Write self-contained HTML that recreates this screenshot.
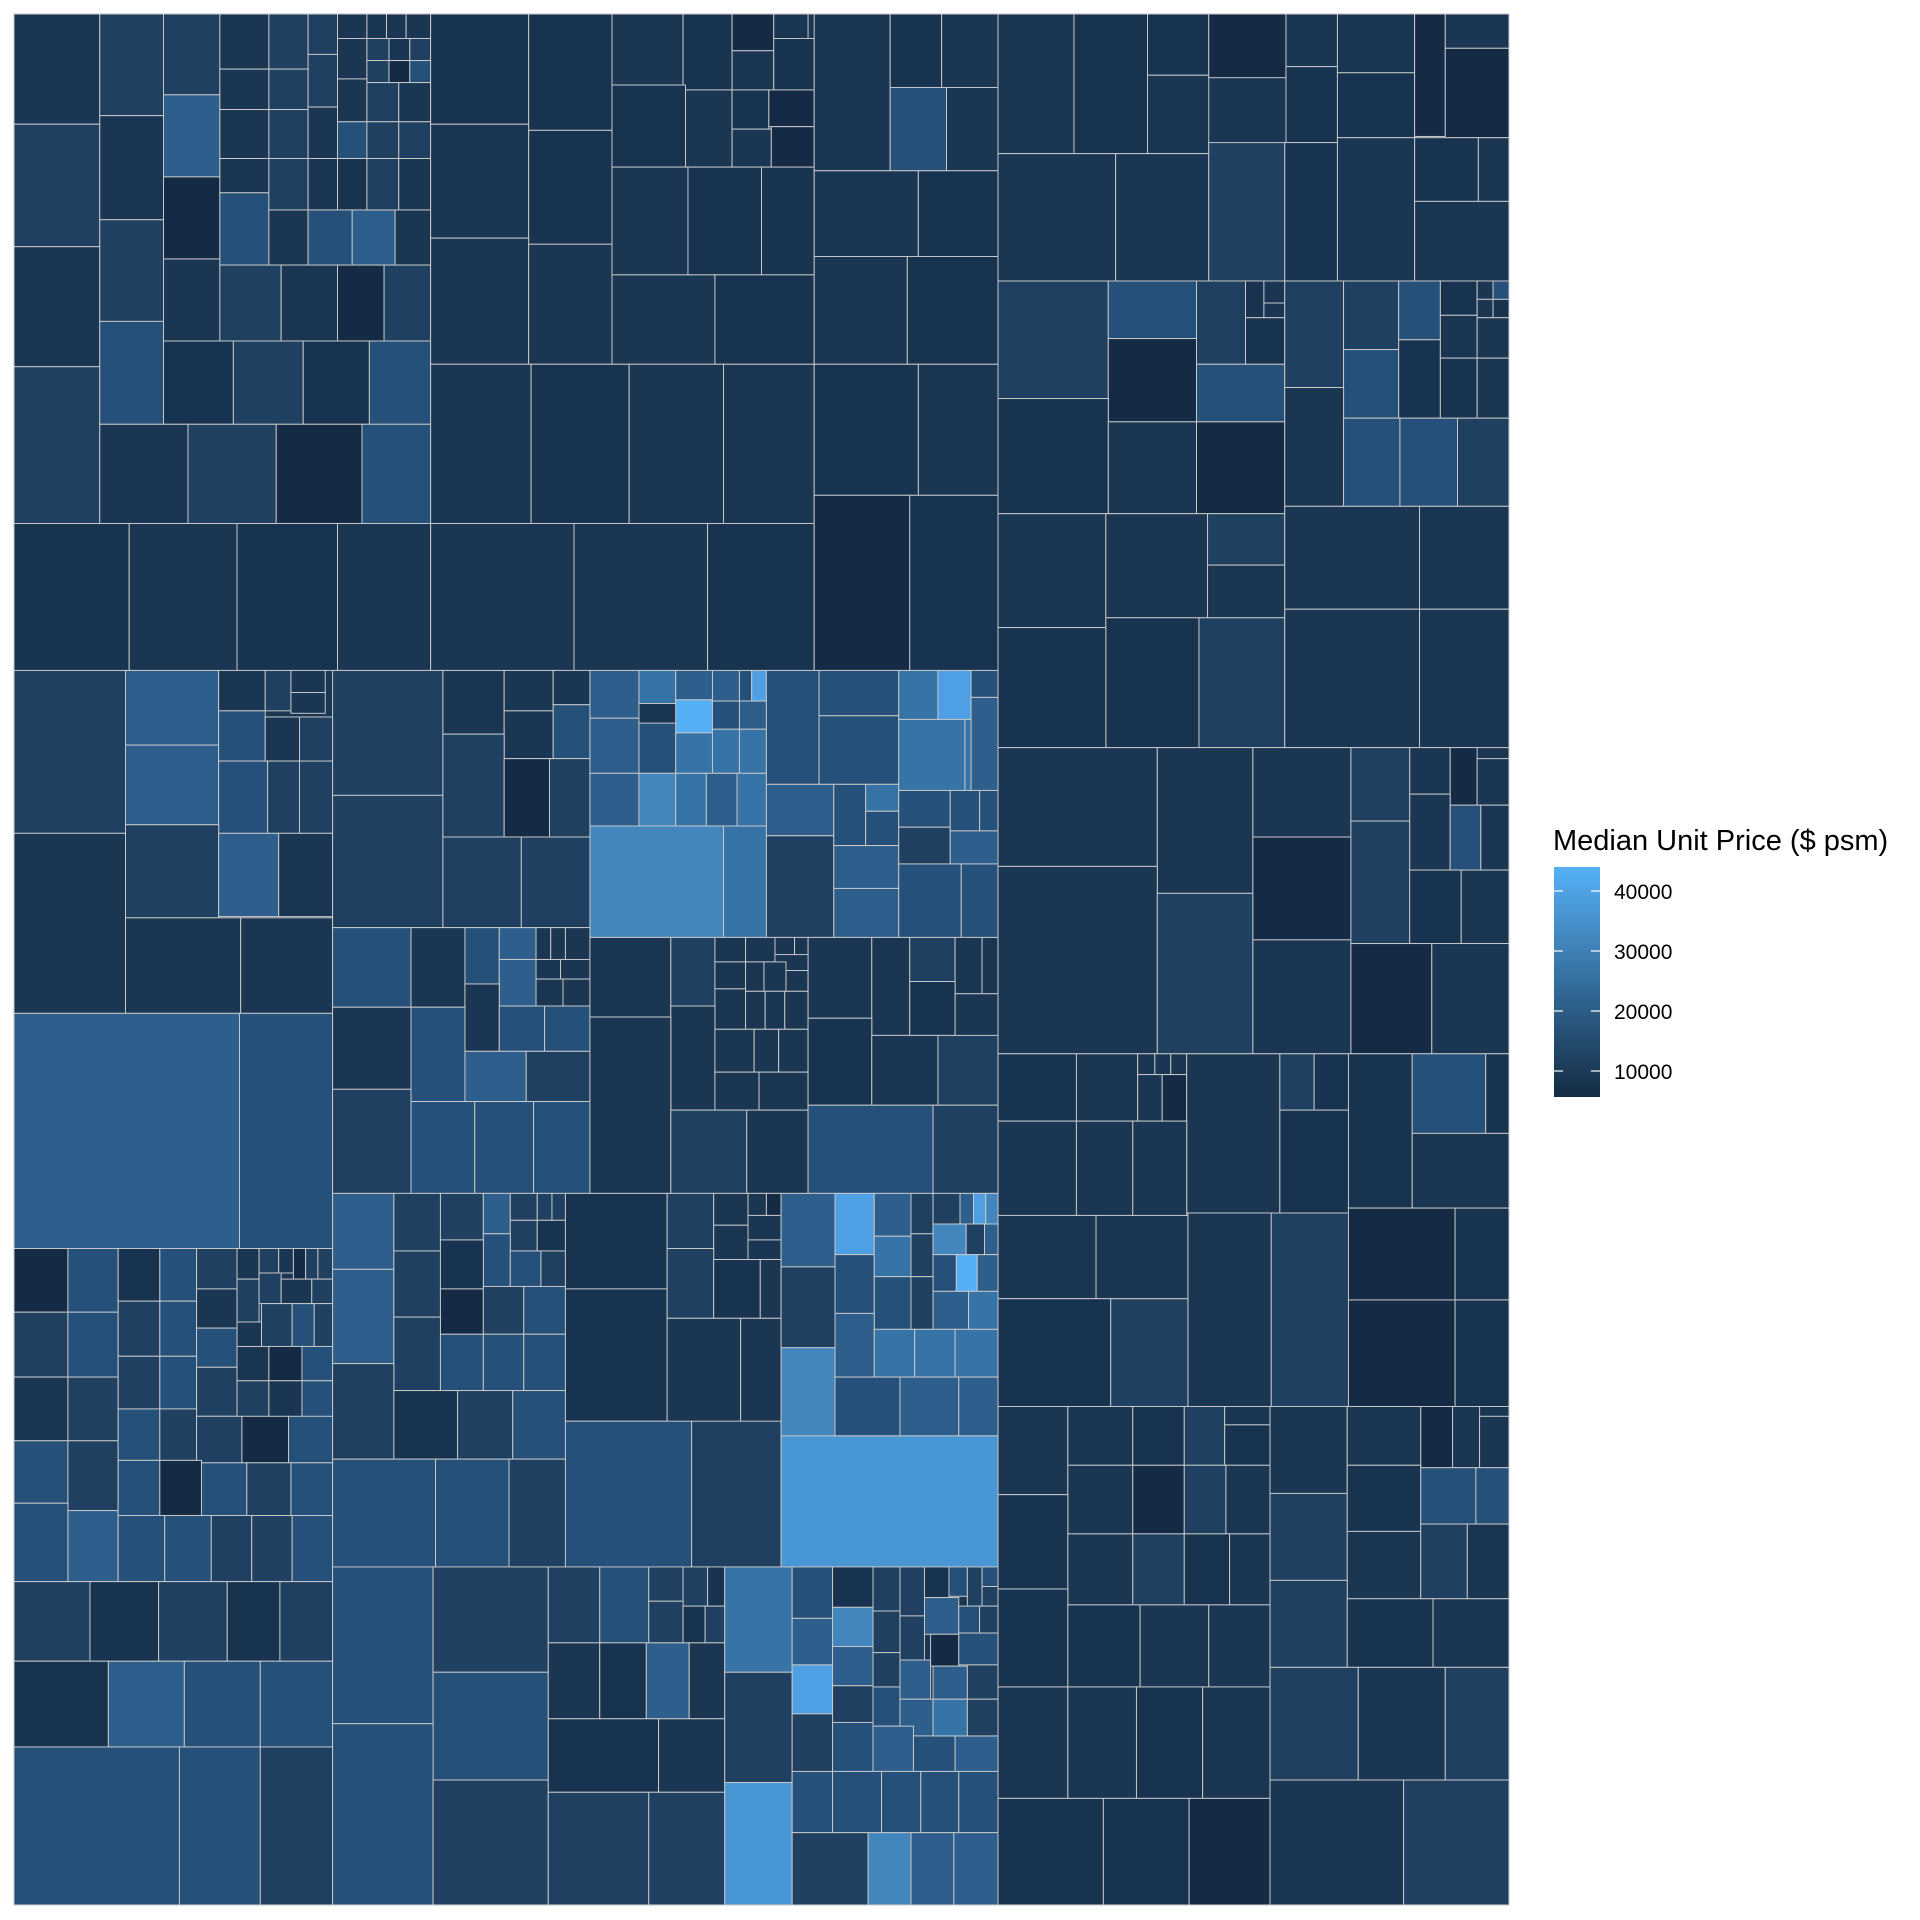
<!DOCTYPE html>
<html><head><meta charset="utf-8"><style>
html,body{margin:0;padding:0;background:#fff}
svg{display:block}
.t rect{fill:#1b3652;stroke:#c8c8c8;stroke-width:0.8}
.t rect.b{fill:#183350}.t rect.k{fill:#152b45}.t rect.c{fill:#1f4060}.t rect.d{fill:#24507a}
.t rect.e{fill:#2e5f8c}.t rect.f{fill:#3673a7}.t rect.g{fill:#4385bd}.t rect.g2{fill:#4896d4}
.t rect.h{fill:#4e9fe4}.t rect.i{fill:#54aff5}
text{font-family:"Liberation Sans",Arial,sans-serif;fill:#000}
</style></head><body>
<svg width="1920" height="1920" viewBox="0 0 1920 1920" xmlns="http://www.w3.org/2000/svg">
<defs><linearGradient id="gr" x1="0" y1="1" x2="0" y2="0"><stop offset="0" stop-color="#132b43"/><stop offset="1" stop-color="#56b1f7"/></linearGradient></defs>
<g class="t" transform="translate(14,14) scale(1.2254,1.2247) translate(-12,-12)">
<rect x="12" y="12" width="1220" height="1544"/>
<!-- A -->
<rect x="12" y="12" width="70" height="90"/><rect class="c" x="12" y="102" width="70" height="100"/><rect x="12" y="202" width="70" height="98"/><rect class="c" x="12" y="300" width="70" height="128"/>
<rect class="c" x="82" y="12" width="52" height="83"/><rect x="82" y="95" width="52" height="85"/><rect class="c" x="82" y="180" width="52" height="83"/><rect class="d" x="82" y="263" width="52" height="84"/>
<rect class="c" x="134" y="12" width="46" height="66"/><rect class="e" x="134" y="78" width="46" height="67"/><rect class="k" x="134" y="145" width="46" height="67"/><rect x="134" y="212" width="46" height="67"/>
<rect x="180" y="12" width="40" height="45"/><rect class="c" x="220" y="12" width="32" height="45"/><rect x="180" y="57" width="40" height="33"/><rect class="c" x="220" y="57" width="32" height="33"/><rect x="180" y="90" width="40" height="40"/><rect class="c" x="220" y="90" width="32" height="40"/><rect x="180" y="130" width="40" height="28"/><rect class="d" x="180" y="158" width="40" height="59"/><rect class="c" x="220" y="130" width="32" height="42"/><rect x="220" y="172" width="32" height="45"/>
<rect class="c" x="252" y="12" width="24" height="33"/><rect x="276" y="12" width="24" height="20"/><rect x="300" y="12" width="16" height="20"/><rect x="316" y="12" width="16" height="20"/><rect x="332" y="12" width="20" height="20"/>
<rect x="276" y="32" width="24" height="33"/><rect class="c" x="300" y="32" width="18" height="18"/><rect x="318" y="32" width="17" height="18"/><rect class="c" x="335" y="32" width="17" height="18"/><rect class="c" x="300" y="50" width="18" height="18"/><rect class="k" x="318" y="50" width="17" height="18"/><rect class="d" x="335" y="50" width="17" height="18"/>
<rect class="c" x="252" y="45" width="24" height="43"/><rect x="276" y="65" width="24" height="35"/><rect class="c" x="300" y="68" width="26" height="32"/><rect x="326" y="68" width="26" height="32"/>
<rect x="252" y="88" width="24" height="42"/><rect class="d" x="276" y="100" width="24" height="30"/><rect class="c" x="300" y="100" width="26" height="30"/><rect class="c" x="326" y="100" width="26" height="30"/>
<rect x="252" y="130" width="24" height="42"/><rect class="b" x="276" y="130" width="24" height="42"/><rect class="c" x="300" y="130" width="26" height="42"/><rect x="326" y="130" width="26" height="42"/>
<rect class="d" x="252" y="172" width="36" height="45"/><rect class="e" x="288" y="172" width="35" height="45"/><rect x="323" y="172" width="29" height="45"/>
<rect class="c" x="180" y="217" width="50" height="62"/><rect x="230" y="217" width="46" height="62"/><rect class="k" x="276" y="217" width="38" height="62"/><rect class="c" x="314" y="217" width="38" height="62"/>
<rect class="b" x="134" y="279" width="57" height="68"/><rect class="c" x="191" y="279" width="57" height="68"/><rect class="b" x="248" y="279" width="54" height="68"/><rect class="d" x="302" y="279" width="50" height="68"/>
<rect x="82" y="347" width="72" height="81"/><rect class="c" x="154" y="347" width="72" height="81"/><rect class="k" x="226" y="347" width="70" height="81"/><rect class="d" x="296" y="347" width="56" height="81"/>
<rect class="b" x="12" y="428" width="94" height="120"/><rect x="106" y="428" width="88" height="120"/><rect class="b" x="194" y="428" width="82" height="120"/><rect x="276" y="428" width="76" height="120"/>
<!-- B -->
<rect class="b" x="352" y="12" width="80" height="90"/><rect class="b" x="432" y="12" width="68" height="95"/><rect x="352" y="102" width="80" height="93"/><rect class="b" x="432" y="107" width="68" height="93"/><rect x="352" y="195" width="80" height="103"/><rect x="432" y="200" width="68" height="98"/>
<rect x="500" y="12" width="58" height="58"/><rect class="b" x="558" y="12" width="40" height="62"/><rect class="k" x="598" y="12" width="34" height="30"/><rect x="632" y="12" width="28" height="20"/><rect x="598" y="42" width="34" height="32"/><rect class="b" x="632" y="32" width="33" height="42"/>
<rect class="b" x="500" y="70" width="60" height="67"/><rect x="560" y="74" width="38" height="63"/><rect class="b" x="598" y="74" width="30" height="32"/><rect class="k" x="628" y="74" width="37" height="30"/><rect x="598" y="106" width="32" height="31"/><rect class="k" x="630" y="104" width="35" height="33"/>
<rect x="500" y="137" width="62" height="88"/><rect class="b" x="562" y="137" width="60" height="88"/><rect class="b" x="622" y="137" width="43" height="88"/>
<rect x="500" y="225" width="84" height="73"/><rect class="b" x="584" y="225" width="81" height="73"/>
<rect x="352" y="298" width="82" height="130"/><rect class="b" x="434" y="298" width="80" height="130"/><rect x="514" y="298" width="77" height="130"/><rect x="591" y="298" width="74" height="130"/>
<rect x="352" y="428" width="117" height="120"/><rect x="469" y="428" width="109" height="120"/><rect class="b" x="578" y="428" width="87" height="120"/>
<!-- C -->
<rect x="665" y="12" width="62" height="128"/><rect class="b" x="727" y="12" width="42" height="60"/><rect x="769" y="12" width="46" height="60"/><rect class="d" x="727" y="72" width="46" height="68"/><rect x="773" y="72" width="42" height="68"/>
<rect x="665" y="140" width="85" height="70"/><rect class="b" x="750" y="140" width="65" height="70"/>
<rect x="665" y="210" width="76" height="88"/><rect class="b" x="741" y="210" width="74" height="88"/>
<rect class="b" x="665" y="298" width="85" height="107"/><rect x="750" y="298" width="65" height="107"/>
<rect class="k" x="665" y="405" width="78" height="143"/><rect class="b" x="743" y="405" width="72" height="143"/>
<!-- D -->
<rect x="815" y="12" width="62" height="114"/><rect class="b" x="877" y="12" width="60" height="114"/><rect class="b" x="937" y="12" width="50" height="50"/><rect x="937" y="62" width="50" height="64"/><rect class="k" x="987" y="12" width="63" height="52"/><rect x="1050" y="12" width="42" height="43"/><rect class="b" x="1050" y="55" width="42" height="62"/><rect x="1092" y="12" width="63" height="48"/><rect class="b" x="1092" y="60" width="63" height="53"/><rect class="k" x="1155" y="12" width="25" height="100"/><rect x="1180" y="12" width="52" height="28"/><rect class="k" x="1180" y="40" width="52" height="73"/>
<rect x="815" y="126" width="96" height="104"/><rect x="911" y="126" width="76" height="104"/><rect class="c" x="987" y="117" width="62" height="113"/><rect class="b" x="1049" y="117" width="43" height="113"/><rect x="1092" y="113" width="63" height="117"/><rect class="b" x="1155" y="113" width="52" height="52"/><rect x="1207" y="113" width="25" height="52"/><rect x="1155" y="165" width="77" height="65"/>
<rect class="c" x="815" y="230" width="90" height="96"/><rect class="d" x="905" y="230" width="72" height="47"/><rect class="k" x="905" y="277" width="72" height="68"/><rect class="c" x="977" y="230" width="40" height="68"/><rect class="b" x="1017" y="230" width="15" height="30"/><rect x="1032" y="230" width="17" height="18"/><rect x="1032" y="248" width="17" height="12"/><rect class="b" x="1017" y="260" width="32" height="38"/><rect class="d" x="977" y="298" width="72" height="47"/><rect class="b" x="815" y="326" width="90" height="94"/><rect x="905" y="345" width="72" height="75"/><rect class="k" x="977" y="345" width="72" height="75"/>
<rect class="c" x="1049" y="230" width="48" height="87"/><rect class="c" x="1097" y="230" width="45" height="56"/><rect class="d" x="1142" y="230" width="34" height="48"/><rect class="b" x="1176" y="230" width="30" height="28"/><rect x="1206" y="230" width="13" height="15"/><rect class="d" x="1219" y="230" width="13" height="15"/><rect x="1206" y="245" width="13" height="15"/><rect class="b" x="1219" y="245" width="13" height="15"/><rect class="d" x="1097" y="286" width="45" height="56"/><rect class="b" x="1142" y="278" width="34" height="64"/><rect x="1176" y="258" width="30" height="35"/><rect class="b" x="1176" y="293" width="30" height="49"/><rect x="1206" y="260" width="26" height="33"/><rect x="1206" y="293" width="26" height="49"/><rect x="1049" y="317" width="48" height="97"/><rect class="d" x="1097" y="342" width="46" height="72"/><rect class="d" x="1143" y="342" width="47" height="72"/><rect class="c" x="1190" y="342" width="42" height="72"/>
<rect x="815" y="420" width="88" height="93"/><rect x="903" y="420" width="83" height="85"/><rect class="c" x="986" y="420" width="63" height="42"/><rect x="986" y="462" width="63" height="43"/><rect class="b" x="903" y="505" width="76" height="106"/><rect class="c" x="979" y="505" width="70" height="106"/><rect class="b" x="815" y="513" width="88" height="98"/>
<rect x="1049" y="414" width="110" height="84"/><rect x="1159" y="414" width="73" height="84"/><rect x="1049" y="498" width="110" height="113"/><rect x="1159" y="498" width="73" height="113"/>
<rect x="815" y="611" width="130" height="97"/><rect x="945" y="611" width="78" height="119"/><rect x="1023" y="611" width="80" height="73"/><rect class="c" x="1103" y="611" width="48" height="60"/><rect x="1151" y="611" width="33" height="38"/><rect class="k" x="1184" y="611" width="22" height="47"/><rect x="1206" y="620" width="26" height="38"/><rect x="815" y="708" width="130" height="153"/><rect class="c" x="945" y="730" width="78" height="131"/><rect class="k" x="1023" y="684" width="80" height="84"/><rect x="1023" y="768" width="80" height="93"/><rect class="c" x="1103" y="671" width="48" height="100"/><rect x="1151" y="649" width="33" height="62"/><rect class="d" x="1184" y="658" width="25" height="53"/><rect x="1209" y="658" width="23" height="53"/><rect class="b" x="1151" y="711" width="42" height="60"/><rect x="1193" y="711" width="39" height="60"/><rect class="k" x="1103" y="771" width="66" height="90"/><rect x="1169" y="771" width="63" height="90"/>
<rect class="b" x="815" y="861" width="64" height="55"/><rect x="879" y="861" width="50" height="55"/><rect x="929" y="861" width="14" height="17"/><rect x="943" y="861" width="13" height="17"/><rect x="956" y="861" width="13" height="17"/><rect x="929" y="878" width="20" height="38"/><rect class="k" x="949" y="878" width="20" height="38"/><rect x="969" y="861" width="76" height="130"/><rect class="c" x="1045" y="861" width="28" height="46"/><rect class="b" x="1073" y="861" width="28" height="46"/><rect class="b" x="1045" y="907" width="56" height="84"/><rect class="b" x="1101" y="861" width="52" height="126"/><rect class="d" x="1153" y="861" width="60" height="65"/><rect class="b" x="1213" y="861" width="19" height="65"/><rect x="1153" y="926" width="79" height="61"/>
<rect x="815" y="916" width="64" height="77"/><rect x="879" y="916" width="46" height="77"/><rect x="925" y="916" width="44" height="77"/>
<rect x="815" y="993" width="80" height="68"/><rect x="895" y="993" width="75" height="68"/><rect x="970" y="991" width="68" height="158"/><rect class="c" x="1038" y="991" width="63" height="158"/><rect class="k" x="1101" y="987" width="87" height="75"/><rect class="b" x="1188" y="987" width="44" height="75"/><rect class="b" x="815" y="1061" width="92" height="88"/><rect class="c" x="907" y="1061" width="63" height="88"/><rect class="k" x="1101" y="1062" width="87" height="87"/><rect class="b" x="1188" y="1062" width="44" height="87"/>
<rect x="815" y="1149" width="57" height="72"/><rect x="872" y="1149" width="53" height="48"/><rect class="b" x="925" y="1149" width="42" height="48"/><rect class="c" x="967" y="1149" width="33" height="48"/><rect x="1000" y="1149" width="37" height="15"/><rect class="b" x="1000" y="1164" width="37" height="33"/><rect x="872" y="1197" width="53" height="56"/><rect class="k" x="925" y="1197" width="42" height="56"/><rect class="c" x="967" y="1197" width="34" height="56"/><rect x="1001" y="1197" width="36" height="56"/><rect class="b" x="815" y="1221" width="57" height="77"/><rect x="872" y="1253" width="53" height="58"/><rect class="c" x="925" y="1253" width="42" height="58"/><rect class="b" x="967" y="1253" width="37" height="58"/><rect x="1004" y="1253" width="33" height="58"/>
<rect x="1037" y="1149" width="63" height="71"/><rect class="c" x="1037" y="1220" width="63" height="71"/><rect x="1100" y="1149" width="60" height="48"/><rect class="k" x="1160" y="1149" width="26" height="50"/><rect x="1186" y="1149" width="22" height="50"/><rect x="1208" y="1157" width="24" height="42"/><rect class="b" x="1100" y="1197" width="60" height="54"/><rect class="d" x="1160" y="1199" width="45" height="46"/><rect class="d" x="1205" y="1199" width="27" height="46"/><rect x="1100" y="1251" width="60" height="55"/><rect class="c" x="1160" y="1245" width="38" height="61"/><rect x="1198" y="1245" width="34" height="61"/>
<rect class="b" x="815" y="1298" width="57" height="80"/><rect class="b" x="872" y="1311" width="59" height="67"/><rect x="931" y="1311" width="56" height="67"/><rect x="987" y="1311" width="50" height="67"/><rect x="815" y="1378" width="57" height="91"/><rect x="872" y="1378" width="56" height="91"/><rect class="b" x="928" y="1378" width="54" height="91"/><rect x="982" y="1378" width="55" height="91"/><rect class="b" x="815" y="1469" width="86" height="87"/><rect class="b" x="901" y="1469" width="70" height="87"/><rect class="k" x="971" y="1469" width="66" height="87"/>
<rect class="c" x="1037" y="1291" width="63" height="71"/><rect class="b" x="1100" y="1306" width="70" height="56"/><rect x="1170" y="1306" width="62" height="56"/><rect class="c" x="1037" y="1362" width="72" height="92"/><rect x="1109" y="1362" width="71" height="92"/><rect class="c" x="1180" y="1362" width="52" height="92"/><rect x="1037" y="1454" width="109" height="102"/><rect class="c" x="1146" y="1454" width="86" height="102"/>
<!-- E -->
<rect class="c" x="12" y="548" width="91" height="133"/><rect class="e" x="103" y="548" width="76" height="61"/><rect class="e" x="103" y="609" width="76" height="65"/><rect x="179" y="548" width="38" height="33"/><rect class="c" x="217" y="548" width="21" height="33"/><rect x="238" y="548" width="28" height="18"/><rect x="238" y="566" width="28" height="17"/><rect class="d" x="179" y="581" width="38" height="41"/><rect x="217" y="586" width="28" height="36"/><rect class="c" x="245" y="586" width="27" height="36"/><rect class="d" x="179" y="622" width="40" height="59"/><rect class="c" x="219" y="622" width="26" height="59"/><rect class="c" x="245" y="622" width="27" height="59"/><rect x="12" y="681" width="91" height="147"/><rect class="c" x="103" y="674" width="76" height="76"/><rect class="e" x="179" y="681" width="49" height="68"/><rect x="228" y="681" width="44" height="68"/><rect x="103" y="750" width="94" height="78"/><rect x="197" y="750" width="75" height="78"/>
<rect class="e" x="12" y="828" width="184" height="193"/><rect class="d" x="196" y="828" width="76" height="193"/>
<!-- F -->
<rect class="c" x="272" y="548" width="90" height="102"/><rect class="c" x="272" y="650" width="90" height="108"/><rect x="362" y="548" width="50" height="52"/><rect x="412" y="548" width="40" height="33"/><rect x="452" y="548" width="30" height="28"/><rect x="412" y="581" width="40" height="39"/><rect class="d" x="452" y="576" width="30" height="44"/><rect class="c" x="362" y="600" width="50" height="84"/><rect class="k" x="412" y="620" width="37" height="64"/><rect class="c" x="449" y="620" width="33" height="64"/><rect class="c" x="362" y="684" width="64" height="74"/><rect class="c" x="426" y="684" width="56" height="74"/>
<rect class="d" x="272" y="758" width="64" height="65"/><rect x="272" y="823" width="64" height="67"/><rect class="c" x="272" y="890" width="64" height="85"/><rect x="336" y="758" width="44" height="65"/><rect class="d" x="380" y="758" width="28" height="46"/><rect class="e" x="408" y="758" width="30" height="26"/><rect x="438" y="758" width="12" height="26"/><rect x="450" y="758" width="12" height="26"/><rect x="462" y="758" width="20" height="26"/><rect class="e" x="408" y="784" width="30" height="38"/><rect x="438" y="784" width="20" height="16"/><rect x="458" y="784" width="24" height="16"/><rect x="438" y="800" width="22" height="22"/><rect x="460" y="800" width="22" height="22"/><rect x="380" y="804" width="28" height="55"/><rect class="d" x="408" y="822" width="37" height="37"/><rect class="d" x="445" y="822" width="37" height="37"/><rect class="d" x="336" y="823" width="44" height="77"/><rect class="e" x="380" y="859" width="50" height="41"/><rect class="c" x="430" y="859" width="52" height="41"/><rect class="d" x="336" y="900" width="52" height="75"/><rect class="d" x="388" y="900" width="48" height="75"/><rect class="d" x="436" y="900" width="46" height="75"/>
<!-- G -->
<rect class="e" x="482" y="548" width="40" height="39"/><rect class="f" x="522" y="548" width="30" height="27"/><rect class="e" x="552" y="548" width="30" height="24"/><rect class="i" x="552" y="572" width="30" height="27"/><rect class="e" x="582" y="548" width="22" height="25"/><rect class="d" x="604" y="548" width="10" height="25"/><rect class="h" x="614" y="548" width="12" height="25"/><rect class="d" x="582" y="573" width="22" height="23"/><rect class="e" x="604" y="573" width="22" height="23"/><rect class="e" x="482" y="587" width="40" height="45"/><rect class="d" x="522" y="591" width="30" height="41"/><rect class="f" x="552" y="599" width="30" height="33"/><rect class="f" x="582" y="596" width="22" height="36"/><rect class="f" x="604" y="596" width="22" height="36"/><rect class="e" x="482" y="632" width="40" height="43"/><rect class="g" x="522" y="632" width="30" height="43"/><rect class="f" x="552" y="632" width="25" height="43"/><rect class="e" x="577" y="632" width="25" height="43"/><rect class="f" x="602" y="632" width="24" height="43"/><rect class="g" x="482" y="675" width="109" height="91"/><rect class="f" x="591" y="675" width="35" height="91"/>
<rect class="d" x="626" y="548" width="43" height="93"/><rect class="d" x="669" y="548" width="65" height="37"/><rect class="d" x="669" y="585" width="65" height="56"/><rect class="e" x="626" y="641" width="55" height="42"/><rect class="c" x="626" y="683" width="55" height="83"/><rect class="d" x="681" y="641" width="26" height="50"/><rect class="f" x="707" y="641" width="27" height="22"/><rect class="d" x="707" y="663" width="27" height="28"/><rect class="e" x="681" y="691" width="53" height="35"/><rect class="e" x="681" y="726" width="53" height="40"/><rect class="f" x="734" y="548" width="32" height="40"/><rect class="h" x="766" y="548" width="27" height="40"/><rect class="d" x="793" y="548" width="22" height="22"/><rect class="e" x="793" y="570" width="22" height="76"/><rect class="f" x="734" y="588" width="54" height="58"/><rect class="f" x="788" y="588" width="5" height="58"/><rect class="d" x="734" y="646" width="42" height="30"/><rect class="c" x="734" y="676" width="42" height="30"/><rect class="d" x="776" y="646" width="24" height="33"/><rect class="d" x="800" y="646" width="15" height="33"/><rect class="e" x="776" y="679" width="39" height="27"/><rect class="d" x="734" y="706" width="51" height="60"/><rect class="d" x="785" y="706" width="30" height="60"/>
<!-- H -->
<rect x="482" y="766" width="66" height="65"/><rect class="c" x="548" y="766" width="36" height="56"/><rect x="584" y="766" width="25" height="20"/><rect x="609" y="766" width="24" height="20"/><rect x="633" y="766" width="16" height="14"/><rect x="649" y="766" width="11" height="14"/><rect x="584" y="786" width="25" height="22"/><rect x="609" y="786" width="15" height="24"/><rect x="624" y="786" width="18" height="24"/><rect x="642" y="793" width="18" height="17"/><rect x="584" y="808" width="25" height="33"/><rect x="609" y="810" width="16" height="31"/><rect x="625" y="810" width="16" height="31"/><rect x="641" y="810" width="19" height="31"/><rect x="548" y="822" width="36" height="85"/><rect x="584" y="841" width="32" height="35"/><rect x="616" y="841" width="20" height="35"/><rect x="636" y="841" width="24" height="35"/><rect x="584" y="876" width="36" height="31"/><rect x="620" y="876" width="40" height="31"/><rect x="482" y="831" width="66" height="144"/><rect class="c" x="548" y="907" width="62" height="68"/><rect x="610" y="907" width="50" height="68"/>
<rect x="660" y="766" width="52" height="66"/><rect x="712" y="766" width="31" height="80"/><rect class="c" x="743" y="766" width="37" height="36"/><rect x="780" y="766" width="22" height="46"/><rect x="802" y="766" width="13" height="46"/><rect class="b" x="743" y="802" width="37" height="44"/><rect x="780" y="812" width="35" height="35"/><rect class="b" x="660" y="832" width="52" height="71"/><rect x="712" y="846" width="54" height="57"/><rect class="c" x="766" y="846" width="49" height="57"/><rect class="d" x="660" y="903" width="102" height="72"/><rect class="c" x="762" y="903" width="53" height="72"/>
<!-- I -->
<rect class="k" x="12" y="1020" width="44" height="52"/><rect class="d" x="56" y="1020" width="41" height="52"/><rect class="b" x="97" y="1020" width="34" height="43"/><rect class="d" x="131" y="1020" width="30" height="43"/><rect class="c" x="161" y="1020" width="33" height="33"/><rect x="194" y="1020" width="18" height="25"/><rect class="c" x="212" y="1020" width="16" height="20"/><rect x="228" y="1020" width="12" height="20"/><rect class="k" x="240" y="1020" width="10" height="25"/><rect class="c" x="250" y="1020" width="10" height="25"/><rect class="c" x="260" y="1020" width="12" height="25"/><rect class="c" x="12" y="1072" width="44" height="53"/><rect class="d" x="56" y="1072" width="41" height="53"/><rect class="c" x="97" y="1063" width="34" height="45"/><rect class="d" x="131" y="1063" width="30" height="45"/><rect x="161" y="1053" width="33" height="32"/><rect class="c" x="194" y="1045" width="18" height="35"/><rect class="c" x="212" y="1040" width="18" height="25"/><rect x="230" y="1045" width="25" height="20"/><rect class="c" x="255" y="1045" width="17" height="20"/><rect class="d" x="161" y="1085" width="33" height="32"/><rect x="194" y="1080" width="20" height="20"/><rect class="c" x="214" y="1065" width="25" height="35"/><rect class="d" x="239" y="1065" width="18" height="35"/><rect class="c" x="257" y="1065" width="15" height="35"/><rect x="12" y="1125" width="44" height="52"/><rect class="c" x="56" y="1125" width="41" height="52"/><rect class="c" x="97" y="1108" width="34" height="43"/><rect class="d" x="131" y="1108" width="30" height="43"/><rect class="c" x="161" y="1117" width="33" height="40"/><rect x="194" y="1100" width="26" height="28"/><rect class="k" x="220" y="1100" width="27" height="28"/><rect class="d" x="247" y="1100" width="25" height="28"/><rect class="c" x="194" y="1128" width="26" height="30"/><rect x="220" y="1128" width="27" height="30"/><rect class="d" x="247" y="1128" width="25" height="30"/><rect class="d" x="12" y="1177" width="44" height="51"/><rect class="c" x="56" y="1177" width="41" height="57"/><rect class="d" x="97" y="1151" width="34" height="42"/><rect class="c" x="131" y="1151" width="30" height="42"/><rect class="c" x="161" y="1157" width="37" height="38"/><rect class="k" x="198" y="1157" width="38" height="38"/><rect class="d" x="236" y="1157" width="36" height="38"/><rect class="d" x="12" y="1228" width="44" height="64"/><rect class="e" x="56" y="1234" width="41" height="58"/><rect class="d" x="97" y="1193" width="34" height="45"/><rect class="k" x="131" y="1193" width="34" height="45"/><rect class="d" x="165" y="1195" width="37" height="43"/><rect class="c" x="202" y="1195" width="36" height="43"/><rect class="d" x="238" y="1195" width="34" height="43"/><rect class="d" x="97" y="1238" width="38" height="54"/><rect class="d" x="135" y="1238" width="38" height="54"/><rect class="c" x="173" y="1238" width="33" height="54"/><rect class="c" x="206" y="1238" width="33" height="54"/><rect class="d" x="239" y="1238" width="33" height="54"/>
<!-- J -->
<rect class="c" x="12" y="1292" width="62" height="65"/><rect class="b" x="74" y="1292" width="56" height="65"/><rect class="c" x="130" y="1292" width="56" height="65"/><rect class="b" x="186" y="1292" width="43" height="65"/><rect class="c" x="229" y="1292" width="43" height="65"/><rect class="b" x="12" y="1357" width="77" height="70"/><rect class="e" x="89" y="1357" width="62" height="70"/><rect class="d" x="151" y="1357" width="62" height="70"/><rect class="d" x="213" y="1357" width="59" height="70"/><rect class="d" x="12" y="1427" width="135" height="129"/><rect class="d" x="147" y="1427" width="66" height="129"/><rect class="c" x="213" y="1427" width="59" height="129"/>
<!-- K -->
<rect class="e" x="272" y="975" width="50" height="62"/><rect class="c" x="322" y="975" width="38" height="47"/><rect class="c" x="360" y="975" width="35" height="38"/><rect class="e" x="395" y="975" width="22" height="33"/><rect class="c" x="417" y="975" width="22" height="22"/><rect class="c" x="439" y="975" width="12" height="22"/><rect class="c" x="451" y="975" width="11" height="22"/><rect class="c" x="417" y="997" width="22" height="25"/><rect class="b" x="439" y="997" width="23" height="25"/><rect class="d" x="395" y="1008" width="22" height="43"/><rect class="e" x="272" y="1037" width="50" height="77"/><rect class="c" x="322" y="1022" width="38" height="54"/><rect class="b" x="360" y="1013" width="35" height="40"/><rect class="d" x="417" y="1022" width="25" height="29"/><rect class="c" x="442" y="1022" width="20" height="29"/><rect class="k" x="360" y="1053" width="35" height="37"/><rect class="c" x="395" y="1051" width="33" height="39"/><rect class="d" x="428" y="1051" width="34" height="39"/><rect class="c" x="322" y="1076" width="38" height="60"/><rect class="d" x="360" y="1090" width="35" height="46"/><rect class="d" x="395" y="1090" width="33" height="46"/><rect class="d" x="428" y="1090" width="34" height="46"/><rect class="c" x="272" y="1114" width="50" height="78"/><rect class="b" x="322" y="1136" width="52" height="56"/><rect class="c" x="374" y="1136" width="45" height="56"/><rect class="d" x="419" y="1136" width="43" height="56"/><rect class="d" x="272" y="1192" width="84" height="89"/><rect class="d" x="356" y="1192" width="60" height="89"/><rect class="c" x="416" y="1192" width="46" height="89"/>
<!-- L -->
<rect class="b" x="462" y="975" width="83" height="78"/><rect class="c" x="545" y="975" width="38" height="45"/><rect x="583" y="975" width="28" height="26"/><rect x="611" y="975" width="15" height="18"/><rect class="k" x="626" y="975" width="12" height="18"/><rect x="611" y="993" width="27" height="20"/><rect x="583" y="1001" width="28" height="28"/><rect x="611" y="1013" width="27" height="16"/><rect class="b" x="462" y="1053" width="83" height="108"/><rect class="c" x="545" y="1020" width="38" height="57"/><rect class="b" x="583" y="1029" width="38" height="48"/><rect x="621" y="1029" width="17" height="48"/><rect x="545" y="1077" width="60" height="85"/><rect x="605" y="1077" width="33" height="85"/><rect class="d" x="462" y="1161" width="103" height="120"/><rect class="c" x="565" y="1161" width="73" height="120"/>
<!-- M -->
<rect class="e" x="638" y="975" width="44" height="60"/><rect class="h" x="682" y="975" width="32" height="50"/><rect class="e" x="714" y="975" width="30" height="35"/><rect class="c" x="744" y="975" width="18" height="33"/><rect class="c" x="762" y="975" width="22" height="25"/><rect class="e" x="784" y="975" width="11" height="25"/><rect class="h" x="795" y="975" width="10" height="25"/><rect class="g" x="805" y="975" width="10" height="25"/><rect class="c" x="638" y="1035" width="44" height="66"/><rect class="d" x="682" y="1025" width="32" height="48"/><rect class="f" x="714" y="1010" width="30" height="33"/><rect class="c" x="744" y="1008" width="18" height="35"/><rect class="g" x="762" y="1000" width="27" height="25"/><rect class="c" x="789" y="1000" width="15" height="25"/><rect class="e" x="804" y="1000" width="11" height="25"/><rect class="d" x="762" y="1025" width="19" height="30"/><rect class="i" x="781" y="1025" width="17" height="30"/><rect class="e" x="798" y="1025" width="17" height="30"/><rect class="d" x="714" y="1043" width="30" height="43"/><rect class="c" x="744" y="1043" width="18" height="43"/><rect class="e" x="762" y="1055" width="29" height="31"/><rect class="f" x="791" y="1055" width="24" height="31"/><rect class="g" x="638" y="1101" width="44" height="72"/><rect class="e" x="682" y="1073" width="32" height="52"/><rect class="f" x="714" y="1086" width="33" height="39"/><rect class="f" x="747" y="1086" width="33" height="39"/><rect class="f" x="780" y="1086" width="35" height="39"/><rect class="d" x="682" y="1125" width="53" height="48"/><rect class="e" x="735" y="1125" width="48" height="48"/><rect class="e" x="783" y="1125" width="32" height="48"/><rect class="g2" x="638" y="1173" width="177" height="108"/>
<!-- N -->
<rect class="d" x="272" y="1280" width="82" height="128"/><rect class="c" x="354" y="1280" width="94" height="86"/><rect class="d" x="354" y="1366" width="94" height="88"/><rect class="d" x="272" y="1408" width="82" height="148"/><rect class="c" x="354" y="1454" width="94" height="102"/>
<!-- O -->
<rect class="c" x="448" y="1280" width="42" height="62"/><rect class="d" x="490" y="1280" width="40" height="62"/><rect class="c" x="530" y="1280" width="28" height="28"/><rect class="c" x="558" y="1280" width="20" height="32"/><rect class="b" x="578" y="1280" width="14" height="32"/><rect class="c" x="530" y="1308" width="28" height="34"/><rect class="b" x="558" y="1312" width="18" height="30"/><rect class="c" x="576" y="1312" width="16" height="30"/><rect x="448" y="1342" width="42" height="62"/><rect class="b" x="490" y="1342" width="38" height="62"/><rect class="e" x="528" y="1342" width="35" height="62"/><rect x="563" y="1342" width="29" height="62"/><rect class="b" x="448" y="1404" width="90" height="60"/><rect x="538" y="1404" width="54" height="60"/><rect class="c" x="448" y="1464" width="82" height="92"/><rect class="c" x="530" y="1464" width="62" height="92"/>
<!-- P -->
<rect class="f" x="592" y="1280" width="55" height="86"/><rect class="c" x="592" y="1366" width="55" height="90"/><rect class="g2" x="592" y="1456" width="55" height="100"/><rect class="d" x="647" y="1280" width="33" height="42"/><rect class="b" x="680" y="1280" width="33" height="33"/><rect class="c" x="713" y="1280" width="22" height="36"/><rect class="c" x="735" y="1280" width="20" height="40"/><rect class="b" x="755" y="1280" width="20" height="25"/><rect class="d" x="775" y="1280" width="15" height="24"/><rect class="c" x="790" y="1280" width="12" height="32"/><rect class="d" x="802" y="1280" width="13" height="16"/><rect class="c" x="802" y="1296" width="13" height="16"/><rect class="e" x="647" y="1322" width="33" height="38"/><rect class="g" x="680" y="1313" width="33" height="32"/><rect class="c" x="713" y="1316" width="22" height="34"/><rect class="c" x="735" y="1320" width="20" height="36"/><rect class="e" x="755" y="1305" width="28" height="30"/><rect class="d" x="783" y="1312" width="17" height="22"/><rect class="c" x="800" y="1312" width="15" height="22"/><rect class="h" x="647" y="1360" width="33" height="40"/><rect class="e" x="680" y="1345" width="33" height="32"/><rect class="c" x="713" y="1350" width="22" height="28"/><rect class="e" x="735" y="1356" width="25" height="32"/><rect class="k" x="760" y="1335" width="23" height="26"/><rect class="d" x="783" y="1334" width="32" height="26"/><rect class="c" x="680" y="1377" width="33" height="30"/><rect class="d" x="713" y="1378" width="22" height="32"/><rect class="e" x="735" y="1388" width="27" height="30"/><rect class="e" x="762" y="1361" width="28" height="27"/><rect class="c" x="790" y="1360" width="25" height="28"/><rect class="c" x="647" y="1400" width="33" height="47"/><rect class="d" x="680" y="1407" width="33" height="40"/><rect class="e" x="713" y="1410" width="33" height="37"/><rect class="d" x="746" y="1418" width="34" height="29"/><rect class="e" x="780" y="1418" width="35" height="29"/><rect class="f" x="762" y="1388" width="28" height="30"/><rect class="c" x="790" y="1388" width="25" height="30"/><rect class="d" x="647" y="1447" width="33" height="50"/><rect class="d" x="680" y="1447" width="40" height="50"/><rect class="d" x="720" y="1447" width="32" height="50"/><rect class="d" x="752" y="1447" width="31" height="50"/><rect class="d" x="783" y="1447" width="32" height="50"/><rect class="c" x="647" y="1497" width="62" height="59"/><rect class="g" x="709" y="1497" width="35" height="59"/><rect class="e" x="744" y="1497" width="35" height="59"/><rect class="e" x="779" y="1497" width="36" height="59"/>
</g>
<!-- legend -->
<text x="1553" y="850" font-size="29">Median Unit Price ($ psm)</text>
<rect x="1554" y="867" width="46" height="230" fill="url(#gr)"/>
<g stroke="#fff" stroke-width="1.2">
<line x1="1554" y1="891" x2="1563" y2="891"/><line x1="1591" y1="891" x2="1600" y2="891"/>
<line x1="1554" y1="951" x2="1563" y2="951"/><line x1="1591" y1="951" x2="1600" y2="951"/>
<line x1="1554" y1="1011" x2="1563" y2="1011"/><line x1="1591" y1="1011" x2="1600" y2="1011"/>
<line x1="1554" y1="1071" x2="1563" y2="1071"/><line x1="1591" y1="1071" x2="1600" y2="1071"/>
</g>
<g font-size="21">
<text x="1614" y="899">40000</text>
<text x="1614" y="959">30000</text>
<text x="1614" y="1019">20000</text>
<text x="1614" y="1079">10000</text>
</g>
</svg>
</body></html>
